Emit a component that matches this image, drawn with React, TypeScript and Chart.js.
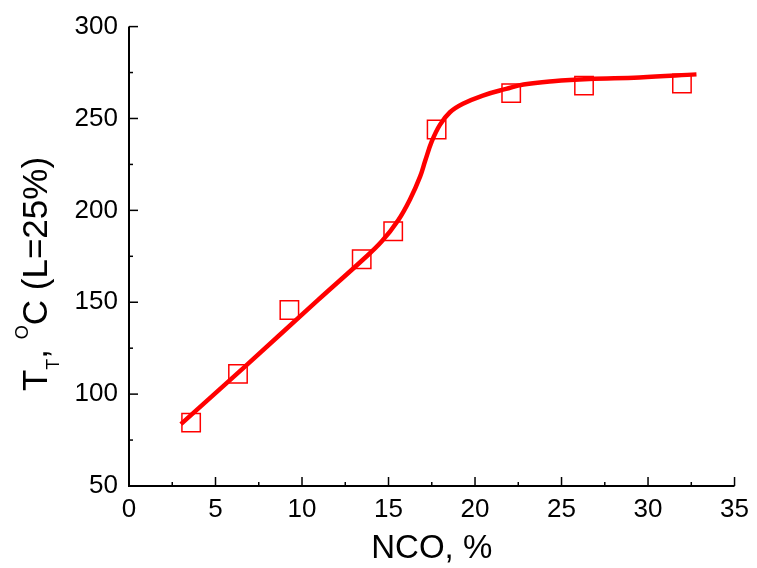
import React, { useEffect, useRef } from "react";
import { Chart, registerables } from "chart.js";

Chart.register(...registerables);

// Measured points (NCO, %  vs  T_T, °C)
const nco = [3.59, 6.3, 9.27, 13.45, 15.27, 17.78, 22.09, 26.3, 31.96];
const tt = [84.5, 111, 145.8, 173.4, 188.6, 244, 263.8, 267.9, 269];

// Fitted smooth curve
const fitX = [3.0, 6.7, 10.9, 13.5, 14.6, 15.56, 16.26, 16.83, 17.12, 17.5, 17.97, 18.55, 19.3, 20.45, 21.8, 22.8, 24.5, 26.6, 29.5, 32.8];
const fitY = [83.7, 115, 151, 173, 183, 194.6, 206.3, 218.5, 227, 237.5, 246.5, 253.4, 258, 262.5, 266.1, 268.5, 270.3, 271.5, 272.3, 274];

const xTicks = [0, 5, 10, 15, 20, 25, 30, 35];
const yTicks = [50, 100, 150, 200, 250, 300];

const FONT = "'Liberation Sans', Arial, sans-serif";

const axisPlugin = {
  id: "customAxis",
  afterDraw(chart: any) {
    const ctx = chart.ctx;
    const xs = chart.scales.x;
    const ys = chart.scales.y;
    const { left, right, top, bottom } = chart.chartArea;
    ctx.save();
    ctx.strokeStyle = "#000";
    ctx.lineWidth = 2;
    // axes
    ctx.beginPath();
    ctx.moveTo(left, top);
    ctx.lineTo(left, bottom);
    ctx.lineTo(right, bottom);
    ctx.stroke();
    ctx.lineWidth = 1.5;
    // x ticks (inward)
    for (let v = 0; v <= 35; v += 2.5) {
      const px = xs.getPixelForValue(v);
      const major = Math.abs(v % 5) < 1e-6;
      ctx.beginPath();
      ctx.moveTo(px, bottom);
      ctx.lineTo(px, bottom - (major ? 9 : 4));
      ctx.stroke();
    }
    for (let v = 50; v <= 300; v += 25) {
      const py = ys.getPixelForValue(v);
      const major = Math.abs(v % 50) < 1e-6;
      ctx.beginPath();
      ctx.moveTo(left, py);
      ctx.lineTo(left + (major ? 9 : 4), py);
      ctx.stroke();
    }
    // x title
    ctx.fillStyle = "#000";
    ctx.font = `33px ${FONT}`;
    ctx.textAlign = "center";
    ctx.textBaseline = "alphabetic";
    ctx.fillText("NCO, %", (left + right) / 2, 558);

    // y title, rotated
    const big = `35px ${FONT}`;
    const sub = `18px ${FONT}`;
    const sup = `18px ${FONT}`;
    const parts = [
      { t: "T", f: big, dy: 0 },
      { t: "T", f: sub, dy: 12 },
      { t: ", ", f: big, dy: 0 },
      { t: "O", f: sup, dy: -19 },
      { t: "C (L=25%)", f: big, dy: 0 },
    ];
    let total = 0;
    for (const p of parts) {
      ctx.font = p.f;
      total += ctx.measureText(p.t).width;
    }
    ctx.translate(47, 274);
    ctx.rotate(-Math.PI / 2);
    ctx.textAlign = "left";
    let x = -total / 2;
    for (const p of parts) {
      ctx.font = p.f;
      ctx.fillText(p.t, x, p.dy);
      x += ctx.measureText(p.t).width;
    }
    ctx.restore();
  },
};

export default function App() {
  const ref = useRef<HTMLCanvasElement | null>(null);
  useEffect(() => {
    document.body.style.margin = "0";
    const canvas = ref.current!;
    const chart = new Chart(canvas, {
      type: "scatter",
      data: {
        datasets: [
          {
            type: "line",
            data: fitX.map((x, i) => ({ x, y: fitY[i] })),
            borderColor: "#ff0000",
            borderWidth: 4.5,
            pointRadius: 0,
            showLine: true,
            fill: false,
            tension: 0.4,
          } as any,
          {
            data: nco.map((x, i) => ({ x, y: tt[i] })),
            pointStyle: "rect",
            pointRadius: 13,
            pointHoverRadius: 13,
            borderColor: "#ff0000",
            borderWidth: 1.5,
            backgroundColor: "rgba(0,0,0,0)",
            showLine: false,
          },
        ],
      },
      options: {
        responsive: false,
        animation: false,
        layout: { padding: { top: 26, right: 16, left: 0, bottom: 0 } },
        plugins: { legend: { display: false }, tooltip: { enabled: false } },
        scales: {
          x: {
            type: "linear",
            min: 0,
            max: 35,
            afterBuildTicks: (s: any) => {
              s.ticks = xTicks.map((v) => ({ value: v }));
            },
            afterFit: (s: any) => {
              s.height = 82;
            },
            grid: { display: false, drawTicks: false },
            border: { display: false },
            ticks: { color: "#000", font: { family: FONT, size: 26 }, padding: 8, maxRotation: 0 },
          },
          y: {
            type: "linear",
            min: 50,
            max: 300,
            afterBuildTicks: (s: any) => {
              s.ticks = yTicks.map((v) => ({ value: v }));
            },
            afterFit: (s: any) => {
              s.width = 129;
            },
            grid: { display: false, drawTicks: false },
            border: { display: false },
            ticks: { color: "#000", font: { family: FONT, size: 26 }, padding: 11 },
          },
        },
      },
      plugins: [axisPlugin],
    });
    return () => chart.destroy();
  }, []);
  return (
    <div style={{ width: 757, height: 568 }}>
      <canvas ref={ref} width={757} height={568} />
    </div>
  );
}
